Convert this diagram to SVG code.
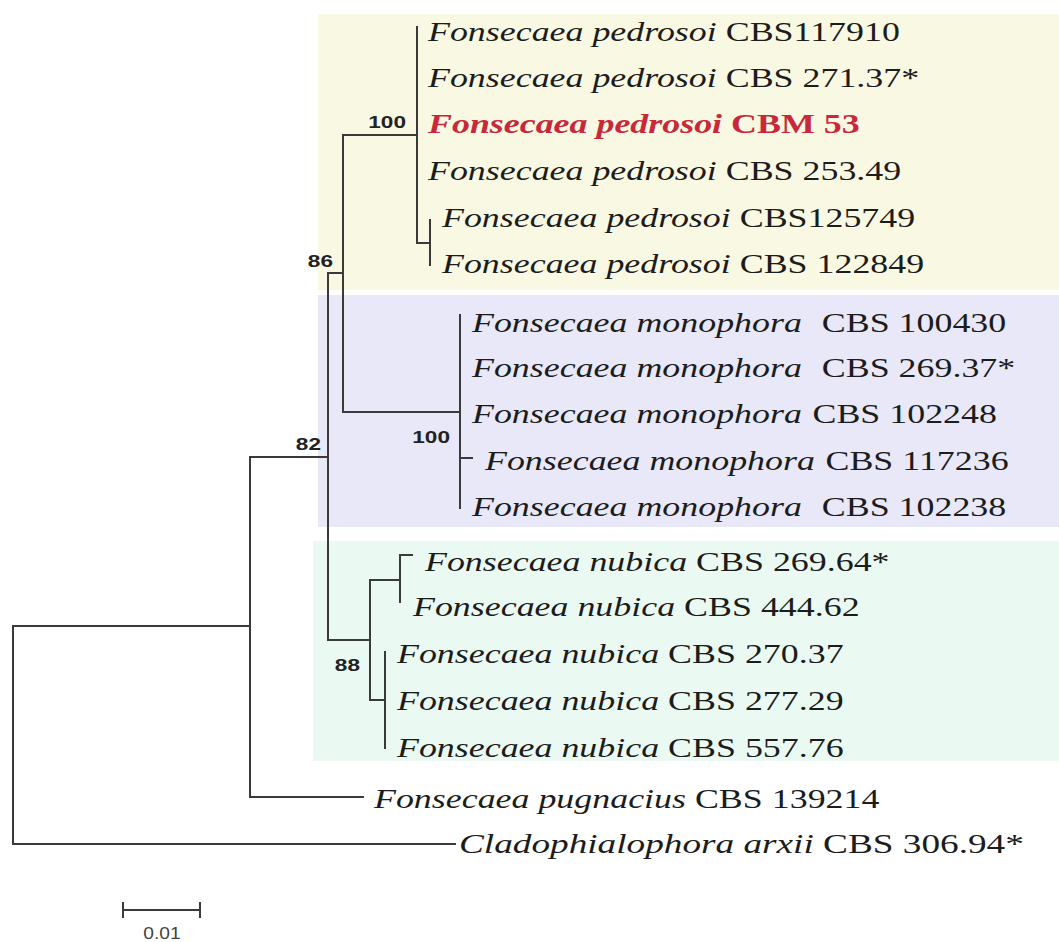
<svg xmlns="http://www.w3.org/2000/svg" width="1059" height="942" viewBox="0 0 1059 942">
<style>
.tx{font-family:"Liberation Serif","Times New Roman",serif;font-size:27px;fill:#1c1c1c}
.it{font-style:italic}
.red{fill:#c8283a;font-weight:bold}
.bs{font-family:"Liberation Sans",Arial,sans-serif;font-size:17px;font-weight:bold;fill:#222;text-anchor:end}
.br{fill:none;stroke:#3a3a3a;stroke-width:2;stroke-linecap:square}
.sc{font-family:"Liberation Sans",Arial,sans-serif;font-size:16px;fill:#444;text-anchor:middle}
</style>
<rect width="1059" height="942" fill="#ffffff"/>
<g id="clade-backgrounds">
<rect id="bg-pedrosoi" x="318" y="14" width="741" height="276" fill="#f9f8e2"/>
<rect id="bg-monophora" x="318" y="295" width="741" height="232" fill="#e8e8f9"/>
<rect id="bg-nubica" x="313" y="541" width="746" height="220" fill="#eafaf3"/>
</g>
<g id="connectors" class="br">
<path d="M13 626V844M13 626H250M13 844H455"/>
<path d="M250 457V797M250 797H363M250 457H328"/>
<path d="M328 273V640M328 273H343"/>
<path d="M343 135V412M343 135H417M417 27V243M417 243H430M430 220V265"/>
<path d="M343 412H460M460 315V508M460 458H472"/>
<path d="M328 640H370M370 580V700M370 580H400M400 555V602M400 555H412M370 700H385M385 652V748"/>
</g>
<g id="bootstrap">
<text class="bs" transform="translate(406 128) scale(1.33 1)">100</text>
<text class="bs" transform="translate(333 267) scale(1.33 1)">86</text>
<text class="bs" transform="translate(321 450) scale(1.33 1)">82</text>
<text class="bs" transform="translate(450 443) scale(1.33 1)">100</text>
<text class="bs" transform="translate(360 671) scale(1.33 1)">88</text>
</g>
<g id="leaf-pedrosoi-CBS117910"><text class="tx" transform="translate(428 41) scale(1.33 1)"><tspan class="it">Fonsecaea pedrosoi</tspan> CBS117910</text></g>
<g id="leaf-pedrosoi-CBS27137"><text class="tx" transform="translate(428 87) scale(1.33 1)"><tspan class="it">Fonsecaea pedrosoi</tspan> CBS 271.37*</text></g>
<g id="leaf-pedrosoi-CBM53"><text class="tx red" transform="translate(428 133) scale(1.33 1)"><tspan class="it">Fonsecaea pedrosoi</tspan> CBM 53</text></g>
<g id="leaf-pedrosoi-CBS25349"><text class="tx" transform="translate(428 180) scale(1.33 1)"><tspan class="it">Fonsecaea pedrosoi</tspan> CBS 253.49</text></g>
<g id="leaf-pedrosoi-CBS125749"><text class="tx" transform="translate(442 227) scale(1.33 1)"><tspan class="it">Fonsecaea pedrosoi</tspan> CBS125749</text></g>
<g id="leaf-pedrosoi-CBS122849"><text class="tx" transform="translate(442 273) scale(1.33 1)"><tspan class="it">Fonsecaea pedrosoi</tspan> CBS 122849</text></g>
<g id="leaf-monophora-CBS100430"><text class="tx" transform="translate(472 332) scale(1.33 1)"><tspan class="it">Fonsecaea monophora</tspan><tspan x="263">CBS 100430</tspan></text></g>
<g id="leaf-monophora-CBS26937"><text class="tx" transform="translate(472 377) scale(1.33 1)"><tspan class="it">Fonsecaea monophora</tspan><tspan x="263">CBS 269.37*</tspan></text></g>
<g id="leaf-monophora-CBS102248"><text class="tx" transform="translate(472 423) scale(1.33 1)"><tspan class="it">Fonsecaea monophora</tspan><tspan x="256">CBS 102248</tspan></text></g>
<g id="leaf-monophora-CBS117236"><text class="tx" transform="translate(485 470) scale(1.33 1)"><tspan class="it">Fonsecaea monophora</tspan><tspan x="256">CBS 117236</tspan></text></g>
<g id="leaf-monophora-CBS102238"><text class="tx" transform="translate(472 516) scale(1.33 1)"><tspan class="it">Fonsecaea monophora</tspan><tspan x="263">CBS 102238</tspan></text></g>
<g id="leaf-nubica-CBS26964"><text class="tx" transform="translate(425 571) scale(1.33 1)"><tspan class="it">Fonsecaea nubica</tspan> CBS 269.64*</text></g>
<g id="leaf-nubica-CBS44462"><text class="tx" transform="translate(413 616) scale(1.33 1)"><tspan class="it">Fonsecaea nubica</tspan> CBS 444.62</text></g>
<g id="leaf-nubica-CBS27037"><text class="tx" transform="translate(397 663) scale(1.33 1)"><tspan class="it">Fonsecaea nubica</tspan> CBS 270.37</text></g>
<g id="leaf-nubica-CBS27729"><text class="tx" transform="translate(397 710) scale(1.33 1)"><tspan class="it">Fonsecaea nubica</tspan> CBS 277.29</text></g>
<g id="leaf-nubica-CBS55776"><text class="tx" transform="translate(397 757) scale(1.33 1)"><tspan class="it">Fonsecaea nubica</tspan> CBS 557.76</text></g>
<g id="leaf-pugnacius-CBS139214"><text class="tx" transform="translate(374 808) scale(1.33 1)"><tspan class="it">Fonsecaea pugnacius</tspan> CBS 139214</text></g>
<g id="leaf-cladophialophora-CBS30694"><text class="tx" transform="translate(459 853) scale(1.38 1)"><tspan class="it">Cladophialophora arxii</tspan> CBS 306.94*</text></g>
<g id="scale-bar">
<path class="br" d="M123 910H200M123 903V917M200 903V917" stroke-linecap="butt"/>
<text class="sc" transform="translate(162 939) scale(1.2 1)">0.01</text>
</g>
</svg>
